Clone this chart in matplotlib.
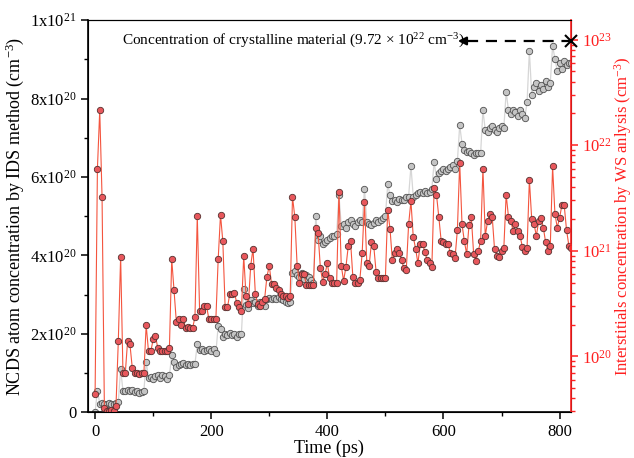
import numpy as np
import matplotlib
matplotlib.use('Agg')
import matplotlib.pyplot as plt
from matplotlib.ticker import FixedLocator, MultipleLocator, LogLocator, NullFormatter

plt.rcParams['font.family'] = 'Liberation Serif'
plt.rcParams['mathtext.fontset'] = 'custom'
plt.rcParams['mathtext.rm'] = 'Liberation Serif'
plt.rcParams['mathtext.it'] = 'Liberation Serif:italic'

# NCDS atom concentration (IDS method), units of 1e20 cm^-3, one value every 4 ps
ncds = np.array([
    0.0, 0.55, 0.22, 0.24, 0.22, 0.2, 0.24, 0.22, 0.22, 0.24,
    0.26, 1.11, 0.54, 0.54, 0.56, 0.54, 0.57, 0.52, 0.54, 0.5,
    0.52, 0.54, 1.28, 0.87, 0.9, 0.85, 0.92, 0.95, 0.88, 0.95,
    0.93, 0.85, 0.94, 1.45, 1.28, 1.16, 1.2, 1.22, 1.25, 1.2,
    1.24, 1.2, 1.22, 1.24, 1.73, 1.58, 1.6, 1.55, 1.58, 1.6,
    1.55, 1.62, 1.51, 2.2, 2.13, 1.92, 2.0, 1.98, 2.02, 1.96,
    2.0, 1.92, 2.0, 2.0, 3.15, 2.73, 2.66, 2.86, 2.78, 2.8,
    2.72, 2.82, 2.75, 2.7, 2.9, 2.92, 2.88, 2.92, 2.9, 2.95,
    2.88, 2.86, 2.8, 2.78, 2.8, 3.55, 3.6, 3.5, 3.45, 3.55,
    3.4, 3.5, 3.45, 3.38, 3.3, 5.0, 4.4, 4.5, 4.3, 4.35,
    4.4, 4.45, 4.5, 4.5, 4.55, 5.54, 4.75, 4.8, 4.7, 4.85,
    4.9, 4.8, 4.75, 4.85, 4.9, 4.85, 5.7, 4.85, 4.8, 4.78,
    4.82, 4.9, 4.85, 4.9, 4.95, 5.0, 5.81, 5.54, 5.38, 5.4,
    5.35, 5.45, 5.4, 5.42, 5.5, 5.5, 6.28, 5.5, 5.55, 5.6,
    5.62, 5.6, 5.65, 5.6, 5.62, 5.7, 6.39, 5.94, 6.1, 6.15,
    6.2, 6.15, 6.2, 6.25, 6.3, 6.2, 6.4, 7.32, 6.85, 6.7,
    6.64, 6.65, 6.6, 6.55, 6.6, 6.6, 6.6, 7.7, 7.2, 7.15,
    7.25, 7.3, 7.2, 7.15, 7.25, 7.3, 7.25, 8.17, 7.7, 7.6,
    7.7, 7.65, 7.55, 7.7, 7.6, 7.5, 7.9, 9.21, 8.1, 8.3,
    8.4, 8.2, 8.35, 8.25, 8.45, 8.3, 8.4, 9.34, 9.02, 8.7,
    8.9, 8.75, 8.95, 8.85, 8.9, 8.9])

# interstitials concentration (WS analysis), units of 1e21 cm^-3
inter = np.array([
    0.044, 6.0, 21.4, 3.2, 0.032, 0.030, 0.030, 0.031, 0.030, 0.034,
    0.14, 0.88, 0.069, 0.069, 0.14, 0.13, 0.078, 0.069, 0.069, 0.068,
    0.069, 0.069, 0.197, 0.111, 0.111, 0.145, 0.155, 0.12, 0.111, 0.111,
    0.113, 0.113, 0.12, 0.83, 0.42, 0.21, 0.224, 0.20, 0.224, 0.186,
    0.19, 0.186, 0.186, 0.234, 2.14, 0.27, 0.27, 0.30, 0.30, 0.224,
    0.224, 0.224, 0.224, 0.83, 2.19, 1.23, 0.29, 0.29, 0.39, 0.39,
    0.40, 0.32, 0.29, 0.27, 0.89, 0.37, 0.31, 0.72, 1.05, 0.39,
    0.31, 0.30, 0.33, 0.35, 0.57, 0.72, 0.48, 0.48, 0.44, 0.42,
    0.39, 0.37, 0.37, 0.36, 0.37, 3.24, 2.09, 0.72, 0.5, 0.6,
    0.6, 0.47, 0.47, 0.47, 0.47, 1.66, 1.48, 0.69, 0.51, 0.6,
    0.76, 0.55, 0.49, 0.49, 0.49, 3.6, 0.72, 0.52, 0.7, 1.1,
    1.23, 0.56, 0.5, 0.5, 0.53, 0.95, 2.9, 0.76, 0.72, 1.2,
    1.1, 0.63, 0.55, 0.55, 0.55, 0.55, 2.45, 1.6, 0.81, 0.95,
    1.05, 0.95, 0.81, 0.68, 0.66, 1.78, 2.95, 1.35, 1.05, 0.76,
    1.15, 1.15, 0.98, 0.81, 0.76, 0.7, 3.9, 3.4, 2.09, 1.25,
    1.2, 1.15, 1.15, 0.95, 0.93, 0.86, 1.58, 6.8, 1.78, 1.23,
    0.93, 1.75, 2.09, 0.93, 0.8, 1.0, 1.23, 6.0, 1.38, 1.9,
    2.24, 2.1, 1.03, 0.9, 0.87, 1.0, 1.06, 3.4, 2.1, 1.9,
    1.55, 1.8, 1.55, 1.38, 1.08, 1.0, 1.06, 4.7, 2.0, 1.8,
    1.38, 1.9, 2.05, 1.66, 1.2, 1.0, 1.1, 6.3, 2.24, 1.66,
    2.05, 2.7, 2.7, 1.57, 1.12, 1.07])

time = np.arange(len(ncds)) * 4.0  # ps

crystal = 9.72e22
left_ticks = [0, 2e20, 4e20, 6e20, 8e20, 1e21]
left_labels = ['0', '2x10$^{20}$', '4x10$^{20}$', '6x10$^{20}$', '8x10$^{20}$', '1x10$^{21}$']

red = '#ff2020'

fig = plt.figure(figsize=(6.34, 4.58), dpi=100)
ax = fig.add_axes([0.139, 0.100, 0.761, 0.856])

ax.plot(time, ncds * 1e20, '-', color='#d6d6d6', lw=0.9, zorder=1)
ax.plot(time, ncds * 1e20, 'o', ms=4.6, mfc='#c4c4c4', mec='#505050', mew=0.6, zorder=2)
ax.set_xlim(-12, 819)
ax.set_ylim(0, 1e21)
ax.yaxis.set_major_locator(FixedLocator(left_ticks))
ax.set_yticklabels(left_labels)
ax.yaxis.set_minor_locator(MultipleLocator(1e20))
ax.xaxis.set_major_locator(MultipleLocator(200))
ax.xaxis.set_minor_locator(MultipleLocator(100))
ax.tick_params(which='major', direction='out', length=5, width=1.1, labelsize=12)
ax.tick_params(which='minor', direction='out', length=3, width=1.0)
ax.set_xlabel('Time (ps)', fontsize=13, labelpad=0)
ax.set_ylabel('NCDS atom concentration by IDS method (cm$^{-3}$)', fontsize=13, labelpad=3)
for s in ['left', 'bottom']:
    ax.spines[s].set_linewidth(1.2)

ax2 = ax.twinx()
ax2.set_yscale('log')
ax2.plot(time, inter * 1e21, '-', color='#f4553f', lw=0.8, zorder=1)
ax2.plot(time, inter * 1e21, 'o', ms=4.6, mfc='#e8575c', mec='#55302f', mew=0.6, zorder=2)
ax2.set_ylim(10**19.47, 10**23.185)
ax2.yaxis.set_major_locator(LogLocator(base=10, numticks=10))
ax2.yaxis.set_minor_locator(LogLocator(base=10, subs=np.arange(2, 10), numticks=20))
ax2.yaxis.set_minor_formatter(NullFormatter())
ax2.tick_params(which='major', direction='out', length=5, width=1.1, labelsize=12, colors=red)
ax2.tick_params(which='minor', direction='out', length=3, width=1.0, colors=red)
ax2.spines['right'].set_color(red)
ax2.spines['right'].set_linewidth(1.2)
ax2.set_ylabel('Interstitials concentration by WS anlysis (cm$^{-3}$)', fontsize=12,
               color=red, labelpad=0)

# crystalline reference with dashed arrow
ax2.plot([819], [crystal], 'x', color='k', ms=8, mew=1.5, clip_on=False, zorder=5)
ax2.plot([640, 816], [crystal, crystal], '--', color='k', lw=1.6, dashes=(5, 3.5))
ax2.annotate('', xy=(620, crystal), xytext=(645, crystal),
             arrowprops=dict(arrowstyle='-|>', color='k', lw=1.6, mutation_scale=12))
ax2.text(46, crystal, 'Concentration of crystalline material (9.72 × 10$^{22}$ cm$^{-3}$)',
         fontsize=11, va='center', ha='left')

fig.savefig('out.png', dpi=100)
